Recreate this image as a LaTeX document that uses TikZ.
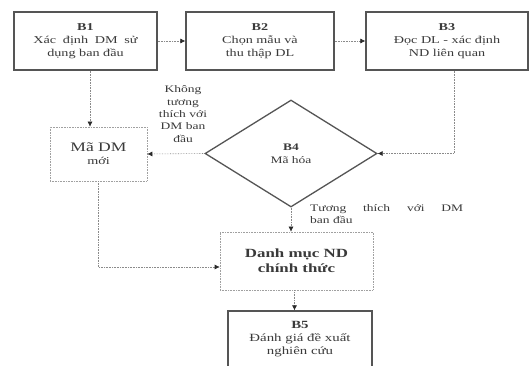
\documentclass[tikz,border=0pt]{standalone}
\usepackage{fontspec}
\setmainfont[FakeStretch=1.35, BoldFont={Liberation Serif Bold}, BoldFeatures={FakeStretch=1.35}]{Liberation Serif}
\usetikzlibrary{shapes.geometric,arrows.meta,calc}
\definecolor{ink}{HTML}{3A3A3A}
\definecolor{edgedark}{HTML}{555555}
\definecolor{edgelight}{HTML}{A0A0A0}
\definecolor{linec}{HTML}{8A8A8A}
\definecolor{tipc}{HTML}{2A2A2A}
\tikzset{
  mainbox/.style={draw=edgedark, line width=1.3pt, rectangle, inner sep=0pt, align=center, text=ink,
    font=\fontsize{10.5}{13}\selectfont},
  lightbox/.style={draw=edgelight, line width=0.6pt, densely dotted, rectangle, inner sep=0pt, align=center, text=ink,
    font=\fontsize{10.5}{13}\selectfont},
  arr/.style={draw=linec, line width=0.6pt, densely dotted, -{Latex[length=5pt,width=5pt,color=tipc]}},
  lbl/.style={text=ink, font=\fontsize{10}{12.3}\selectfont, inner sep=0pt}
}
\begin{document}
\begin{tikzpicture}[x=1pt,y=-1pt]
\useasboundingbox (0,0) rectangle (530,366);
\fill[white] (0,0) rectangle (530,366);
\node[mainbox, minimum width=143, minimum height=58] (b1) at (85.5,41) {\textbf{B1}\\Xác\hspace{0.3em} định\hspace{0.3em} DM\hspace{0.3em} sử\\dụng ban đầu};
\node[mainbox, minimum width=148, minimum height=58] (b2) at (260,41) {\textbf{B2}\\Chọn mẫu và\\thu thập DL};
\node[mainbox, minimum width=162, minimum height=58] (b3) at (447,41) {\textbf{B3}\\Đọc DL - xác định\\ND liên quan};
\node[lightbox, minimum width=97, minimum height=54] (ma) at (98.5,154) {{\fontsize{13}{15}\selectfont Mã DM}\\mới};
\node[diamond, draw=edgedark, line width=1.3pt, aspect=1.6, minimum width=172, minimum height=107, inner sep=0pt, align=center, text=ink, font=\fontsize{10}{13}\selectfont] (b4) at (291,153.5) {\textbf{B4}\\Mã hóa};
\node[lightbox, minimum width=153, minimum height=58, font=\fontsize{12.5}{15}\selectfont] (dm) at (296.5,261) {\textbf{Danh mục ND}\\\textbf{chính thức}};
\node[mainbox, minimum width=144, minimum height=56, font=\fontsize{11}{13}\selectfont] (b5) at (300,339) {\textbf{B5}\\Đánh giá đề xuất\\nghiên cứu};
\node[lbl, align=center] (l1) at (183,114) {Không\\tương\\thích với\\DM ban\\đầu};
\node[lbl, align=left, anchor=north west] (l2) at (310,204) {\hbox to 153pt{Tương\hfill thích\hfill với\hfill DM}\\ban đầu};
\draw[arr] (b1) -- (b2);
\draw[arr] (b2) -- (b3);
\draw[arr] ([xshift=4.5pt]b1.south) -- ([xshift=4.5pt]b1.south |- ma.north);
\draw[arr] ([xshift=7pt]b3.south) |- (b4.east);
\draw[arr] (b4.west) -- (ma.east);
\draw[arr] (b4.south) -- (b4.south |- dm.north);
\draw[arr] (ma.south) |- ([yshift=-6pt]dm.west);
\draw[arr] ([xshift=-2pt]dm.south) -- ([xshift=-2pt]dm.south |- b5.north);
\end{tikzpicture}
\end{document}
